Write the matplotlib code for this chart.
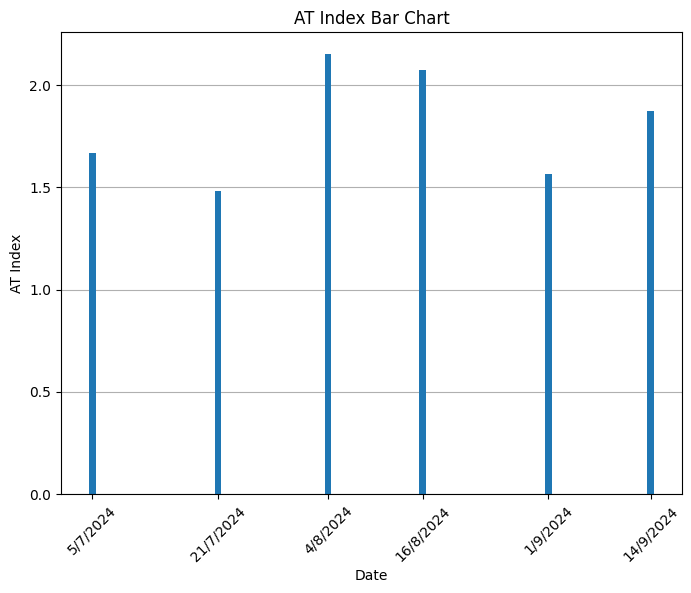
import pandas as pd
import matplotlib
matplotlib.use('Agg')
import matplotlib.pyplot as plt

# Data
dates = ['2024-07-05', '2024-07-21', '2024-08-04', '2024-08-16', '2024-09-01', '2024-09-14']
at_index = [1.667, 1.48, 2.152, 2.074, 1.564, 1.873]
tick_labels = ['5/7/2024', '21/7/2024', '4/8/2024', '16/8/2024', '1/9/2024', '14/9/2024']

dates = pd.to_datetime(dates)

fig = plt.figure(figsize=(6.91, 5.93), dpi=100)
ax = fig.add_axes([61 / 691, 1 - 494 / 593, (682 - 61) / 691, (494 - 32) / 593])

ax.bar(dates, at_index, color='#1f77b4')
ax.set_title('AT Index Bar Chart')
ax.set_xlabel('Date')
ax.set_ylabel('AT Index')
ax.set_xticks(dates)
ax.set_xticklabels(tick_labels, rotation=45)
ax.grid(axis='y')
ax.set_axisbelow(True)

plt.savefig('out.png')
